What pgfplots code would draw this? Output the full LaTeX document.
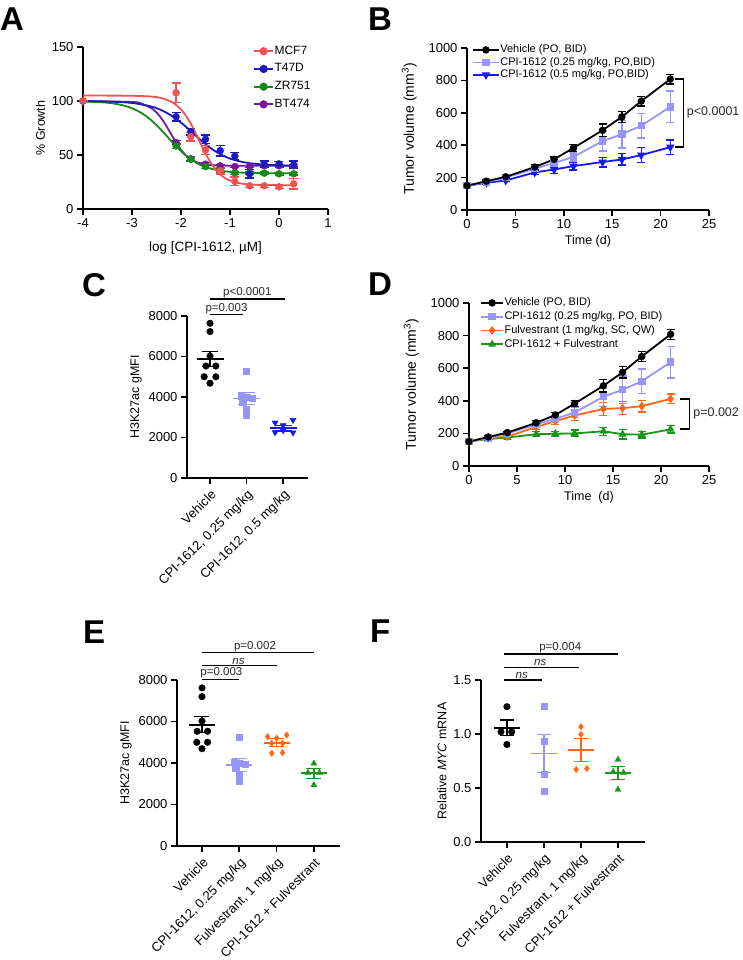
\documentclass[border=0pt]{standalone}
\usepackage{fontspec}
\setmainfont{Liberation Sans}
\usepackage{pgfplots}
\pgfplotsset{compat=1.18}

\definecolor{cMCF}{RGB}{240,82,82}
\definecolor{cT47}{RGB}{28,28,190}
\definecolor{cZR}{RGB}{22,138,22}
\definecolor{cBT}{RGB}{120,22,160}
\definecolor{cLP}{RGB}{150,150,250}
\definecolor{cB5}{RGB}{24,24,240}
\definecolor{cOr}{RGB}{255,102,24}
\definecolor{cGr}{RGB}{26,150,26}
\definecolor{cP}{RGB}{40,40,40}

\pgfplotsset{
  gp/.style={
    scale only axis, anchor=south west,
    axis lines=left,
    axis line style={line width=1.6pt, -},
    tick style={line width=1.6pt, black},
    tick align=outside, major tick length=6pt,
    /pgf/number format/assume math mode=true,
    /pgf/number format/1000 sep={},
    scaled y ticks=false,
    tick label style={font=\fontsize{13}{15}\selectfont},
    label style={font=\fontsize{12.5}{14}\selectfont},
    clip=false,
  },
  eb/.style={error bars/y dir=both, error bars/y explicit,
    error bars/error bar style={line width=1.3pt, solid},
    error bars/error mark options={rotate=90, mark size=#1, line width=1.3pt}},
  eb/.default=4pt,
  cat/.style={xticklabel style={rotate=45, anchor=north east, font=\fontsize{13}{15}\selectfont}},
}

\begin{document}
\begin{tikzpicture}
\path[use as bounding box] (0,0) rectangle (743pt,-960pt);

% panel letters
\begin{scope}[every node/.style={anchor=north west, inner sep=0pt, font=\fontsize{33}{33}\selectfont\bfseries}]
\node at (0pt,-8pt) {A};
\node at (368pt,-8pt) {B};
\node at (82pt,-273pt) {C};
\node at (368pt,-273pt) {D};
\node at (83pt,-621pt) {E};
\node at (370pt,-620pt) {F};
\end{scope}

%================ A
\begin{axis}[gp, at={(83pt,-209pt)}, width=245pt, height=162pt,
  xmin=-4, xmax=1, ymin=0, ymax=150,
  xtick={-4,-3,-2,-1,0,1}, xticklabels={-4,-3,-2,-1,0,1},
  ytick={0,50,100,150},
  xlabel={log [CPI-1612, µM]}, ylabel={\% Growth},
  xlabel style={font=\fontsize{13.5}{15}\selectfont, yshift=-7pt},
  legend style={draw=none, fill=none, at={(0.694,1.012)}, anchor=north west, inner sep=0pt,
    font=\fontsize{12}{13}\selectfont, row sep=5.7pt,
    nodes={inner sep=0.5pt, text height=8.5pt, text depth=2.5pt}},
  legend cell align=left,
  legend image code/.code={\draw[mark repeat=2, mark phase=2] plot coordinates {(0pt,0pt) (9.5pt,0pt) (19pt,0pt)};},
]
\addlegendimage{cMCF, line width=1.8pt, mark=*, mark size=3.2pt}
\addlegendentry{MCF7}
\addlegendimage{cT47, line width=1.8pt, mark=*, mark size=3.2pt}
\addlegendentry{T47D}
\addlegendimage{cZR, line width=1.8pt, mark=*, mark size=3.2pt}
\addlegendentry{ZR751}
\addlegendimage{cBT, line width=1.8pt, mark=*, mark size=3.2pt}
\addlegendentry{BT474}
% BT474
\addplot[cBT, line width=1.8pt, smooth, forget plot] coordinates {(-4,100) (-3,99.1) (-2.8,97.5) (-2.6,93.2) (-2.5,89.4) (-2.4,83.9) (-2.3,77.0) (-2.2,69.2) (-2.1,61.5) (-2.0,54.8) (-1.9,49.7) (-1.8,46.0) (-1.7,43.8) (-1.6,42.3) (-1.4,40.8) (-1.2,40.3) (-0.8,40.03) (0.3,40)};
\addplot[cBT, only marks, mark=*, mark size=3.5pt, eb=4.5pt, forget plot] coordinates {(-4,100)+-(0,0) (-2.1,61.5)+-(0,2) (-1.8,46.5)+-(0,2) (-1.5,41.5)+-(0,1.5) (-1.2,40)+-(0,1.5) (-0.9,39.3)+-(0,1) (-0.6,39.5)+-(0,1) (-0.3,40)+-(0,1) (0,40)+-(0,1) (0.3,40)+-(0,1)};
% ZR751
\addplot[cZR, line width=1.8pt, smooth, forget plot] coordinates {(-4,99.6) (-3.5,98.4) (-3.2,96.2) (-3.0,93.3) (-2.8,88.7) (-2.6,81.9) (-2.4,73.0) (-2.2,63.0) (-2.0,53.6) (-1.8,46.0) (-1.6,40.8) (-1.4,37.5) (-1.2,35.6) (-1.0,34.4) (-0.6,33.4) (0,33.1) (0.3,33.05)};
\addplot[cZR, only marks, mark=*, mark size=3.5pt, eb=4.5pt, forget plot] coordinates {(-4,100)+-(0,0) (-2.1,58.4)+-(0,2.5) (-1.8,46)+-(0,2) (-1.5,39.3)+-(0,2) (-1.2,35.4)+-(0,2) (-0.9,33.5)+-(0,1.5) (-0.6,33.5)+-(0,1) (-0.3,33.2)+-(0,1) (0,32.6)+-(0,1) (0.3,32.6)+-(0,1)};
% T47D
\addplot[cT47, line width=1.8pt, smooth, forget plot] coordinates {(-4,99.9) (-3.5,99.5) (-3,98.2) (-2.6,94.8) (-2.4,91.5) (-2.2,86.6) (-2.0,80.0) (-1.8,72.1) (-1.6,63.9) (-1.4,56.5) (-1.2,50.8) (-1.0,46.7) (-0.8,44.1) (-0.6,42.4) (-0.3,41.1) (0,40.5) (0.3,40.2)};
\addplot[cT47, only marks, mark=*, mark size=3.5pt, eb=4.5pt, forget plot] coordinates {(-4,100)+-(0,0) (-2.1,85.5)+-(0,4) (-1.8,71.6)+-(0,3) (-1.5,64.6)+-(0,4) (-1.2,54)+-(0,5) (-0.9,49)+-(0,3) (-0.6,32.6)+-(0,4) (-0.3,41.5)+-(0,3) (0,41.8)+-(0,2.5) (0.3,41)+-(0,3.5)};
% MCF7
\addplot[cMCF, line width=1.8pt, smooth, forget plot] coordinates {(-4,105) (-3.5,105) (-3,104.85) (-2.6,104.1) (-2.4,102.7) (-2.2,99.4) (-2.1,96.4) (-2.0,92.2) (-1.9,86.4) (-1.8,79.0) (-1.7,70.1) (-1.6,60.6) (-1.5,51.4) (-1.4,43.4) (-1.3,36.9) (-1.2,32.1) (-1.1,28.6) (-1.0,26.3) (-0.8,23.8) (-0.6,22.7) (-0.3,22.2) (0.3,22.05)};
\addplot[cMCF, only marks, mark=*, mark size=3.5pt, eb=4.5pt, forget plot] coordinates {(-4,100)+-(0,0) (-2.1,107.6)+-(0,9) (-1.8,67)+-(0,4) (-1.5,54.7)+-(0,4) (-1.2,35.4)+-(0,3) (-0.9,25.5)+-(0,4) (-0.6,21.5)+-(0,1.5) (-0.3,21.5)+-(0,1.5) (0,20.5)+-(0,1.5) (0.3,23.4)+-(0,5)};
\end{axis}

%================ B
\begin{axis}[gp, at={(467pt,-210pt)}, width=242pt, height=162pt,
  xmin=0, xmax=25, ymin=0, ymax=1000,
  xtick={0,5,10,15,20,25}, ytick={0,200,400,600,800,1000},
  xlabel={Time (d)}, ylabel={Tumor volume (mm\textsuperscript{3})},
  ylabel style={font=\fontsize{14}{16}\selectfont}, ylabel shift=5pt,
  legend style={draw=none, fill=none, at={(0.02,1.025)}, anchor=north west, inner sep=0pt,
    font=\fontsize{11}{12}\selectfont, row sep=1pt,
    nodes={inner sep=0.5pt, text height=8pt, text depth=2.5pt}},
  legend cell align=left,
  legend image code/.code={\draw[mark repeat=2, mark phase=2] plot coordinates {(0pt,0pt) (13pt,0pt) (26pt,0pt)};},
]
\addlegendimage{black, line width=1.8pt, mark=*, mark size=2.8pt}
\addlegendentry{Vehicle (PO, BID)}
\addlegendimage{cLP, line width=1.8pt, mark=square*, mark size=2.8pt}
\addlegendentry{CPI-1612 (0.25 mg/kg, PO,BID)}
\addlegendimage{cB5, line width=1.8pt, mark=triangle*, mark size=3.2pt, mark options={rotate=180}}
\addlegendentry{CPI-1612 (0.5 mg/kg, PO,BID)}
\addplot[cB5, line width=1.8pt, mark=triangle*, mark size=3.2pt, mark options={rotate=180}, eb, forget plot] coordinates {(0,150)+-(0,5) (2,168)+-(0,8) (4,182)+-(0,8) (7,232)+-(0,15) (9,250)+-(0,25) (11,271)+-(0,25) (14,296)+-(0,30) (16,312)+-(0,35) (18,339)+-(0,45) (21,388)+-(0,45)};
\addplot[cLP, line width=1.8pt, mark=square*, mark size=2.8pt, eb, forget plot] coordinates {(0,150)+-(0,5) (2,172)+-(0,8) (4,200)+-(0,8) (7,255)+-(0,15) (9,290)+-(0,20) (11,328)+-(0,30) (14,425)+-(0,60) (16,468)+-(0,85) (18,520)+-(0,75) (21,637)+-(0,97)};
\addplot[black, line width=1.8pt, mark=*, mark size=2.8pt, eb, forget plot] coordinates {(0,150)+-(0,5) (2,178)+-(0,8) (4,205)+-(0,8) (7,265)+-(0,15) (9,313)+-(0,15) (11,383)+-(0,20) (14,492)+-(0,38) (16,575)+-(0,35) (18,672)+-(0,30) (21,808)+-(0,30)};
\draw[line width=1.3pt] (axis cs:21.5,808) -- (axis cs:22.35,808) -- (axis cs:22.35,388) -- (axis cs:21.5,388);
\node[anchor=west, inner sep=0pt, font=\fontsize{12.5}{14}\selectfont, text=cP] at (axis cs:22.7,600) {p<0.0001};
\end{axis}

%================ C
\begin{axis}[gp, cat, at={(187pt,-478pt)}, width=121pt, height=162pt,
  xmin=0.37, xmax=3.68, ymin=0, ymax=8000,
  xtick={1,2,3}, xticklabels={Vehicle, {CPI-1612, 0.25 mg/kg}, {CPI-1612, 0.5 mg/kg}},
  ytick={0,2000,4000,6000,8000},
  ylabel={H3K27ac gMFI},
]
\addplot[black, only marks, mark=*, mark size=3.3pt] coordinates {(1,7640) (1,7230) (1,6020) (0.89,5530) (1.16,5530) (0.84,5000) (1.16,5000) (1,4680)};
\addplot[black, line width=1.8pt] coordinates {(0.63,5860) (1.37,5860)};
\addplot[black, mark=none, eb=8.4pt] coordinates {(1,5860)+-(0,370)};
\addplot[cLP, only marks, mark=square*, mark size=3pt] coordinates {(2,5250) (1.85,4050) (2,4000) (2.16,3950) (1.88,3750) (2,3420) (2,3100)};
\addplot[cLP, line width=1.8pt] coordinates {(1.63,3930) (2.37,3930)};
\addplot[cLP, mark=none, eb=8.4pt] coordinates {(2,3930)+-(0,290)};
\addplot[cB5, only marks, mark=triangle*, mark size=3.5pt, mark options={rotate=180}] coordinates {(2.78,2730) (3.27,2860) (3,2600) (2.78,2250) (3.27,2240) (3,2350)};
\addplot[cB5, line width=1.8pt] coordinates {(2.63,2450) (3.37,2450)};
\addplot[cB5, mark=none, eb=8.4pt] coordinates {(3,2450)+-(0,130)};
\draw[line width=1.3pt] (axis cs:1,8840) -- (axis cs:3.05,8840);
\draw[line width=1.3pt] (axis cs:1,8066) -- (axis cs:1.91,8066);
\node[above, inner sep=1pt, font=\fontsize{11.5}{13}\selectfont, text=cP] at (axis cs:2.02,8840) {p<0.0001};
\node[above, inner sep=1pt, font=\fontsize{11.5}{13}\selectfont, text=cP] at (axis cs:1.45,8066) {p=0.003};
\end{axis}

%================ D
\begin{axis}[gp, at={(469pt,-466pt)}, width=240pt, height=163pt,
  xmin=0, xmax=25, ymin=0, ymax=1000,
  xtick={0,5,10,15,20,25}, ytick={0,200,400,600,800,1000},
  xlabel={Time\ \ (d)}, ylabel={Tumor volume (mm\textsuperscript{3})},
  ylabel style={font=\fontsize{14}{16}\selectfont}, ylabel shift=5pt,
  legend style={draw=none, fill=none, at={(0.046,1.037)}, anchor=north west, inner sep=0pt,
    font=\fontsize{11}{12}\selectfont, row sep=2.3pt,
    nodes={inner sep=0.5pt, text height=8pt, text depth=2.5pt}},
  legend cell align=left,
  legend image code/.code={\draw[mark repeat=2, mark phase=2] plot coordinates {(0pt,0pt) (11pt,0pt) (22pt,0pt)};},
]
\addlegendimage{black, line width=1.8pt, mark=*, mark size=2.8pt}
\addlegendentry{Vehicle (PO, BID)}
\addlegendimage{cLP, line width=1.8pt, mark=square*, mark size=2.8pt}
\addlegendentry{CPI-1612 (0.25 mg/kg, PO, BID)}
\addlegendimage{cOr, line width=1.8pt, mark=diamond*, mark size=3pt}
\addlegendentry{Fulvestrant (1 mg/kg, SC, QW)}
\addlegendimage{cGr, line width=1.8pt, mark=triangle*, mark size=3pt}
\addlegendentry{CPI-1612 + Fulvestrant}
\addplot[cGr, line width=1.8pt, mark=triangle*, mark size=3pt, eb, forget plot] coordinates {(0,150)+-(0,5) (2,165)+-(0,8) (4,175)+-(0,8) (7,195)+-(0,15) (9,198)+-(0,15) (11,200)+-(0,20) (14,213)+-(0,25) (16,195)+-(0,30) (18,192)+-(0,20) (21,225)+-(0,22)};
\addplot[cOr, line width=1.8pt, mark=diamond*, mark size=3pt, eb, forget plot] coordinates {(0,150)+-(0,5) (2,170)+-(0,8) (4,180)+-(0,8) (7,240)+-(0,15) (9,275)+-(0,20) (11,310)+-(0,30) (14,350)+-(0,40) (16,355)+-(0,40) (18,367)+-(0,35) (21,412)+-(0,30)};
\addplot[cLP, line width=1.8pt, mark=square*, mark size=2.8pt, eb, forget plot] coordinates {(0,150)+-(0,5) (2,172)+-(0,8) (4,200)+-(0,8) (7,255)+-(0,15) (9,290)+-(0,20) (11,328)+-(0,30) (14,425)+-(0,60) (16,468)+-(0,85) (18,520)+-(0,75) (21,637)+-(0,97)};
\addplot[black, line width=1.8pt, mark=*, mark size=2.8pt, eb, forget plot] coordinates {(0,150)+-(0,5) (2,178)+-(0,8) (4,205)+-(0,8) (7,265)+-(0,15) (9,313)+-(0,15) (11,383)+-(0,20) (14,492)+-(0,38) (16,575)+-(0,35) (18,672)+-(0,30) (21,808)+-(0,30)};
\draw[line width=1.3pt] (axis cs:22.0,411) -- (axis cs:23.0,411) -- (axis cs:23.0,227) -- (axis cs:22.0,227);
\node[anchor=west, inner sep=0pt, font=\fontsize{12.5}{14}\selectfont, text=cP] at (axis cs:23.35,325) {p=0.002};
\end{axis}

%================ E
\begin{axis}[gp, cat, at={(177pt,-846pt)}, width=163pt, height=166pt,
  xmin=0.33, xmax=4.70, ymin=0, ymax=8000,
  xtick={1,2,3,4}, xticklabels={Vehicle, {CPI-1612, 0.25 mg/kg}, {Fulvestrant, 1 mg/kg}, {CPI-1612 + Fulvestrant}},
  ytick={0,2000,4000,6000,8000},
  ylabel={H3K27ac gMFI},
]
\addplot[black, only marks, mark=*, mark size=3.3pt] coordinates {(1,7620) (1,7200) (1,6020) (0.87,5530) (1.15,5530) (0.86,5000) (1.15,5000) (1,4690)};
\addplot[black, line width=1.8pt] coordinates {(0.65,5850) (1.35,5850)};
\addplot[black, mark=none, eb=7.5pt] coordinates {(1,5850)+-(0,380)};
\addplot[cLP, only marks, mark=square*, mark size=3pt] coordinates {(2,5240) (1.86,4050) (2,4000) (2.15,3950) (1.88,3750) (2,3420) (2,3100)};
\addplot[cLP, line width=1.8pt] coordinates {(1.65,3900) (2.35,3900)};
\addplot[cLP, mark=none, eb=7.5pt] coordinates {(2,3900)+-(0,310)};
\addplot[cOr, only marks, mark=diamond*, mark size=3.2pt] coordinates {(2.76,5270) (3.27,5350) (3,5200) (2.87,4950) (3.16,4950) (2.87,4470) (3.16,4500)};
\addplot[cOr, line width=1.8pt] coordinates {(2.65,4980) (3.35,4980)};
\addplot[cOr, mark=none, eb=7.5pt] coordinates {(3,4980)+-(0,200)};
\addplot[cGr, only marks, mark=triangle*, mark size=3.5pt] coordinates {(4,3980) (3.84,3530) (4.15,3530) (4,2940)};
\addplot[cGr, line width=1.8pt] coordinates {(3.65,3500) (4.35,3500)};
\addplot[cGr, mark=none, eb=7.5pt] coordinates {(4,3500)+-(0,240)};
\draw[line width=1.3pt] (axis cs:1,9317) -- (axis cs:4,9317);
\draw[line width=1.3pt] (axis cs:1,8707) -- (axis cs:3,8707);
\draw[line width=1.3pt] (axis cs:1,8032) -- (axis cs:1.98,8032);
\node[above, inner sep=1pt, font=\fontsize{11.5}{13}\selectfont, text=cP] at (axis cs:2.42,9317) {p=0.002};
\node[above, inner sep=1pt, font=\fontsize{11.5}{13}\selectfont\itshape, text=cP] at (axis cs:1.98,8707) {ns};
\node[above, inner sep=1pt, font=\fontsize{11.5}{13}\selectfont, text=cP] at (axis cs:1.52,8032) {p=0.003};
\end{axis}

%================ F
\begin{axis}[gp, cat, at={(481pt,-842pt)}, width=164pt, height=162pt,
  xmin=0.30, xmax=4.73, ymin=0, ymax=1.5,
  xtick={1,2,3,4}, xticklabels={Vehicle, {CPI-1612, 0.25 mg/kg}, {Fulvestrant, 1 mg/kg}, {CPI-1612 + Fulvestrant}},
  ytick={0,0.5,1.0,1.5},
  yticklabel style={/pgf/number format/.cd, fixed, fixed zerofill, precision=1},
  ylabel={Relative \textit{MYC} mRNA},
]
\addplot[black, only marks, mark=*, mark size=3.3pt] coordinates {(1,1.253) (0.84,1.02) (1.13,1.02) (1,0.903)};
\addplot[black, line width=1.8pt] coordinates {(0.65,1.058) (1.35,1.058)};
\addplot[black, mark=none, eb=6.7pt] coordinates {(1,1.058)+-(0,0.073)};
\addplot[cLP, only marks, mark=square*, mark size=3pt] coordinates {(2,1.259) (2,0.937) (2,0.628) (2,0.473)};
\addplot[cLP, line width=1.8pt] coordinates {(1.65,0.82) (2.35,0.82)};
\addplot[cLP, mark=none, eb=6.7pt] coordinates {(2,0.82)+-(0,0.175)};
\addplot[cOr, only marks, mark=diamond*, mark size=3.2pt] coordinates {(3,1.067) (3,0.996) (2.87,0.671) (3.16,0.680)};
\addplot[cOr, line width=1.8pt] coordinates {(2.65,0.853) (3.35,0.853)};
\addplot[cOr, mark=none, eb=6.7pt] coordinates {(3,0.853)+-(0,0.105)};
\addplot[cGr, only marks, mark=triangle*, mark size=3.5pt] coordinates {(4,0.764) (3.87,0.650) (4.15,0.643) (4,0.486)};
\addplot[cGr, line width=1.8pt] coordinates {(3.65,0.64) (4.35,0.64)};
\addplot[cGr, mark=none, eb=6.7pt] coordinates {(4,0.64)+-(0,0.062)};
\draw[line width=1.3pt] (axis cs:0.92,1.741) -- (axis cs:4,1.741);
\draw[line width=1.3pt] (axis cs:0.92,1.618) -- (axis cs:2.95,1.618);
\draw[line width=1.3pt] (axis cs:0.92,1.5) -- (axis cs:1.95,1.5);
\node[above, inner sep=1pt, font=\fontsize{11.5}{13}\selectfont, text=cP] at (axis cs:2.44,1.741) {p=0.004};
\node[above, inner sep=1pt, font=\fontsize{11.5}{13}\selectfont\itshape, text=cP] at (axis cs:1.9,1.618) {ns};
\node[above, inner sep=1pt, font=\fontsize{11.5}{13}\selectfont\itshape, text=cP] at (axis cs:1.4,1.5) {ns};
\end{axis}
\end{tikzpicture}
\end{document}
